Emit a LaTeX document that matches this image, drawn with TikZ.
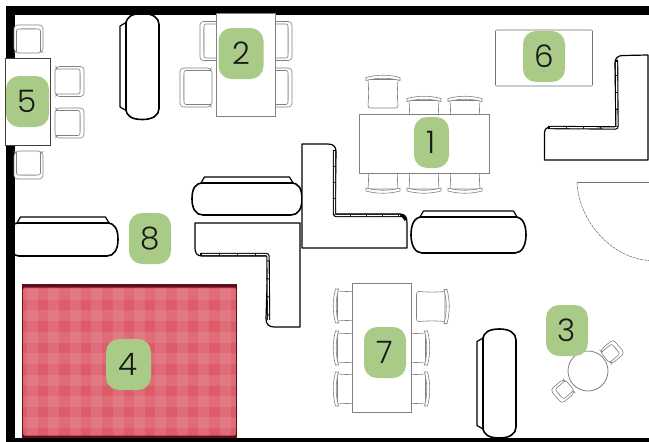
\documentclass[tikz,border=0pt]{standalone}
\usepackage{fontspec}
\setmainfont{Poppins}[UprightFont=* Light]
\definecolor{badge}{HTML}{A9CB87}
\definecolor{rugdark}{HTML}{5E0F1E}
\definecolor{rugbase}{HTML}{DC5C69}
\definecolor{chairline}{gray}{0.5}
\tikzset{
  badgebox/.style={fill=badge,rounded corners=13pt,inner sep=0pt,font=\fontsize{31}{31}\selectfont,text=black!90},
  tablebox/.style={draw=black!50,fill=white,line width=0.8pt},
  chairstroke/.style={draw=chairline,fill=white,line width=0.6pt},
  sofaline/.style={draw=black,fill=white,line width=1.6pt,line join=round},
  lsofa/.style={draw=black,fill=white,line width=1.2pt,line join=round},
  walls/.style={fill=black},
}
\newcommand{\pillsofa}[5]{%
  \begin{scope}[shift={(#1,#2)},rotate=#3]
    \pgfmathsetmacro{\aa}{#4/2}\pgfmathsetmacro{\dd}{#5/2}\pgfmathsetmacro{\tt}{-\dd+6}\pgfmathsetmacro{\mm}{(\tt+\dd)/2}
    \draw[sofaline,line width=1.2pt] ({-\aa+9},\tt) -- ({-\aa+12.5},-\dd) -- ({\aa-12.5},-\dd) -- ({\aa-9},\tt) -- cycle;
    \draw[sofaline] ({-\aa+11},\tt) -- ({\aa-11},\tt) .. controls ({\aa-3},\tt) and (\aa,{\mm-10}) .. (\aa,\mm) .. controls (\aa,{\mm+10}) and ({\aa-4},\dd) .. ({\aa-11},\dd) -- ({-\aa+11},\dd) .. controls ({-\aa+4},\dd) and (-\aa,{\mm+10}) .. (-\aa,\mm) .. controls (-\aa,{\mm-10}) and ({-\aa+3},\tt) .. ({-\aa+11},\tt) -- cycle;
  \end{scope}}
\newcommand{\backchair}[4]{% cx cy rot scale: back on top
  \begin{scope}[shift={(#1,#2)},rotate=#3,scale=#4]
    \draw[chairstroke] (-15,-12) .. controls (-14,0) and (-14.5,8) .. (-15,14) .. controls (-15,16) and (-14,16.5) .. (-12,16.5) -- (12,16.5) .. controls (14,16.5) and (15,16) .. (15,14) .. controls (14.5,8) and (14,0) .. (15,-12) -- cycle;
    \draw[chairstroke] (-17,-14) .. controls (-6,-17) and (6,-17) .. (17,-14) -- (17,-11) .. controls (6,-14) and (-6,-14) .. (-17,-11) -- cycle;
  \end{scope}}
\newcommand{\armchair}[5]{% cx cy rot W D: back on top
  \begin{scope}[shift={(#1,#2)},rotate=#3]
    \pgfmathsetmacro{\ww}{#4/2}\pgfmathsetmacro{\hh}{#5/2}
    \draw[chairstroke,rounded corners=3.5pt] (-\ww,{\hh-1}) -- (-\ww,-\hh) -- (\ww,-\hh) -- (\ww,{\hh-1}) -- ({\ww-4},{\hh-1}) -- ({\ww-4},{-\hh+4}) -- ({-\ww+4},{-\hh+4}) -- ({-\ww+4},{\hh-1}) -- cycle;
    \draw[chairstroke,rounded corners=2pt] ({-\ww+2.5},{-\hh+4}) rectangle ({\ww-2.5},\hh);
  \end{scope}}
\begin{document}
\begin{tikzpicture}[x=1pt,y=-1pt]
\useasboundingbox (0,0) rectangle (649,442);
\fill[white] (0,0) rectangle (649,442);
% sofas under the walls
\pillsofa{139.5}{66.5}{90}{106}{39}
\pillsofa{496.5}{383.5}{90}{109}{39}
\pillsofa{247}{196}{0}{110}{38}
\begin{scope}
  \clip (15,200) rectangle (125,270);
  \pillsofa{63}{236.5}{0}{110}{39}
\end{scope}
\pillsofa{468.5}{232}{0}{115}{42}
% walls
\fill[walls] (6,6) rectangle (649,15);
\fill[walls] (6,6) rectangle (15,442);
\fill[walls] (6,438) rectangle (649,442);
% door
\draw[black!55,line width=0.5pt] (649,182.5) -- (577,182.5);
\draw[black!60,line width=0.5pt,dash pattern=on 3pt off 0.8pt] (577,182.5) .. controls (579,222) and (612,258) .. (649,260.5);
% rug
\fill[rugdark] (22,284) rectangle (237,438);
\begin{scope}
  \clip[rounded corners=1.5pt] (23,287.5) rectangle (236,435.5);
  \fill[rugbase] (22,284) rectangle (237,438);
  \foreach \k in {0,...,10} {
    \fill[white,opacity=0.1] ({27+21.4*\k},284) rectangle ({38+21.4*\k},438);
  }
  \foreach \k in {0,...,7} {
    \fill[white,opacity=0.1] (22,{289+21.4*\k}) rectangle (237,{300+21.4*\k});
  }
\end{scope}
% L sofas
\draw[lsofa] (302,248) -- (302,144) -- (328,144) .. controls (334,144) and (336,147) .. (336,152) -- (335,214) -- (400,214) .. controls (405,214) and (407,218) .. (407,223) -- (407,248) -- cycle;
\draw[line width=3.4pt,rounded corners=2pt] (334.5,150) -- (334.5,215.5) -- (400,215.5) .. controls (403,215.5) and (405,217) .. (406,220);
\draw[white,line width=1.2pt,rounded corners=2pt,dash pattern=on 15pt off 1pt] (334.5,151) -- (334.5,215.5) -- (400,215.5);
\draw[lsofa] (195,223) -- (300,223) -- (300,327) -- (274,327) .. controls (269,327) and (266,324) .. (266,319) -- (268,256) -- (202,256) .. controls (197,256) and (195,253) .. (195,248) -- cycle;
\draw[line width=3.4pt,rounded corners=2pt] (200,254.5) -- (268,254.5) -- (268.5,320);
\draw[white,line width=1.2pt,rounded corners=2pt,dash pattern=on 17pt off 1pt] (202,254.5) -- (268,254.5) -- (268.5,320);
\draw[lsofa] (648,55) -- (648,160) -- (544.5,160) -- (544.5,133) .. controls (544.5,129) and (547,127) .. (551,127) -- (616,127) -- (615,63) .. controls (615,58) and (618,55.5) .. (623,55.5) -- cycle;
\draw[line width=3.4pt,rounded corners=2pt] (548,127.5) -- (617,128) -- (616.5,60);
\draw[white,line width=1.2pt,rounded corners=2pt,dash pattern=on 16pt off 1pt] (550,127.5) -- (617,128) -- (616.5,62);
% chairs of table 1
\backchair{383}{91.5}{0}{1}
\backchair{424}{112.5}{0}{1}
\backchair{465}{112.5}{0}{1}
\backchair{383}{177}{180}{1}
\backchair{424}{177}{180}{1}
\backchair{465}{177}{180}{1}
\node[tablebox,minimum width=130pt,minimum height=59pt,inner sep=0pt] (table1) at (424,143.5) {};
% chairs of table 7
\backchair{349.5}{306}{90}{1}
\backchair{349.5}{348}{90}{1}
\backchair{349.5}{389}{90}{1}
\backchair{433}{306.5}{-90}{1}
\backchair{413.5}{348}{-90}{1}
\backchair{413.5}{389}{-90}{1}
\node[tablebox,minimum width=59pt,minimum height=129pt,inner sep=0pt] (table7) at (381.5,347.5) {};
% chairs of table 2
\armchair{216}{41}{90}{39}{32}
\armchair{196}{87.5}{90}{39}{32}
\armchair{276}{41}{-90}{39}{32}
\armchair{276}{87.5}{-90}{39}{32}
\node[tablebox,minimum width=58.5pt,minimum height=103pt,inner sep=0pt] (table2) at (246,64.5) {};
% chairs of table 5
\armchair{28.5}{39}{0}{29}{28}
\armchair{28.5}{165}{180}{29}{28}
\armchair{69.5}{81.5}{-90}{30}{29}
\armchair{69.5}{123}{-90}{30}{29}
\node[tablebox,draw=black!75,minimum width=45pt,minimum height=87.5pt,inner sep=0pt] (table5) at (28,102) {};
% table 6
\node[tablebox,draw=black!55,line width=0.6pt,rounded corners=1pt,minimum width=97pt,minimum height=56pt,inner sep=0pt] (table6) at (544,58) {};
% round table 3
\armchair{612}{352}{-50}{18}{18}
\armchair{563}{391}{130}{18}{18}
\node[circle,draw=black!50,fill=white,line width=0.8pt,minimum size=40pt,inner sep=0pt] (table3) at (588,371) {};
% badges
\node[badgebox,minimum width=35pt,minimum height=51pt] (b1) at (431.5,142.5) {1};
\node[badgebox,minimum width=45pt,minimum height=51pt] (b2) at (241,53.5) {2};
\node[badgebox,minimum width=42pt,minimum height=51pt] (b3) at (567,330.5) {3};
\node[badgebox,minimum width=45pt,minimum height=51pt] (b4) at (128.5,364.5) {4};
\node[badgebox,minimum width=43pt,minimum height=51pt] (b5) at (27.5,101.5) {5};
\node[badgebox,minimum width=42pt,minimum height=51pt] (b6) at (544,56.5) {6};
\node[badgebox,minimum width=42pt,minimum height=51pt] (b7) at (385,352.5) {7};
\node[badgebox,minimum width=42pt,minimum height=51pt] (b8) at (150,238.5) {8};
\end{tikzpicture}
\end{document}
